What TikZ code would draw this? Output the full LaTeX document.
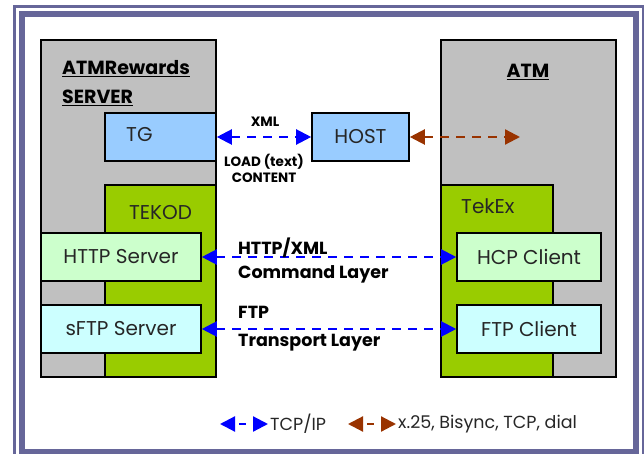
\documentclass[tikz,border=0pt]{standalone}
\usepackage{fontspec}
\setmainfont{Poppins}
\usetikzlibrary{arrows.meta}
\definecolor{frameGray}{RGB}{102,102,153}
\definecolor{boxGray}{RGB}{192,192,192}
\definecolor{boxGreen}{RGB}{153,204,0}
\definecolor{boxBlue}{RGB}{153,204,255}
\definecolor{boxMint}{RGB}{204,255,204}
\definecolor{boxCyan}{RGB}{204,255,255}
\definecolor{linkBlue}{RGB}{0,0,255}
\definecolor{linkBrown}{RGB}{153,51,0}

\begin{document}
\begin{tikzpicture}[x=1pt, y=-1pt,
    box/.style={draw=black, line width=1.6pt, inner sep=0pt,
      text=black!85, font=\fontsize{20}{24}\selectfont},
    lbl/.style={inner sep=0pt, text=black!85},
    tag/.style={inner sep=0pt, font=\bfseries\fontsize{17.5}{20}\selectfont},
    note/.style={inner sep=0pt, align=center,
      font=\bfseries\fontsize{13.5}{16}\selectfont},
    bigtip/.tip={Triangle[length=15pt, width=15pt]},
    link/.style={line width=2.2pt, dash pattern=on 9pt off 7pt, bigtip-bigtip}]
  \useasboundingbox (0,0) rectangle (644,454);
  \clip (0,0) rectangle (644,454);
  % page frame
  \draw[frameGray, line width=3pt] (14,7) rectangle (643.5,470);
  \draw[frameGray, line width=6.5pt] (22,14) rectangle (636,452);

  % server side
  \node[box, fill=boxGray, minimum width=175pt, minimum height=337pt] (srv) at (128.5,208.5) {};
  \node[box, fill=boxGreen, minimum width=111pt, minimum height=192pt] (tekod) at (160.5,281) {};
  \node[box, fill=boxBlue, minimum width=111pt, minimum height=48pt] (tg) at (160.5,137) {};
  \node[box, fill=boxMint, minimum width=160pt, minimum height=48pt] (http) at (121,257) {HTTP Server};
  \node[box, fill=boxCyan, minimum width=160pt, minimum height=48pt] (sftp) at (121,329) {sFTP Server};
  \node[lbl, anchor=west, font=\fontsize{20}{24}\selectfont] (tglbl) at (126,135) {TG};
  \node[lbl, font=\fontsize{20}{24}\selectfont] (tekodlbl) at (160.5,213) {TEKOD};
  \node[lbl, anchor=base west, align=left, text=black,
    font=\bfseries\fontsize{19}{29}\selectfont] (srvlbl) at (62,104)
    {\underline{ATMRewards}\\\underline{SERVER}};

  % host
  \node[box, fill=boxBlue, minimum width=97pt, minimum height=48pt] (host) at (360.5,137) {HOST};

  % atm side
  \node[box, fill=boxGray, minimum width=175pt, minimum height=337pt] (atm) at (528.5,208.5) {};
  \node[box, fill=boxGreen, minimum width=112pt, minimum height=192pt] (tekex) at (497,281) {};
  \node[box, fill=boxMint, minimum width=144pt, minimum height=48pt] (hcp) at (529,257) {HCP Client};
  \node[box, fill=boxCyan, minimum width=144pt, minimum height=48pt] (ftpc) at (529,329) {FTP Client};
  \node[lbl, anchor=west, font=\fontsize{20}{24}\selectfont] (tekexlbl) at (461,206.5) {TekEx};
  \node[lbl, anchor=base, text=black,
    font=\bfseries\fontsize{19}{24}\selectfont] (atmlbl) at (528,78) {\underline{ATM}};

  % links
  \coordinate (hostout) at (520,137);
  \draw[link, linkBlue] (tg.east) -- (host.west);
  \draw[link, linkBrown] (host.east) -- (hostout);
  \draw[link, linkBlue] (http.east) -- (hcp.west);
  \draw[link, linkBlue] (sftp.east) -- (ftpc.west);
  \node[note, anchor=base] (xmllbl) at (265,127) {XML};
  \node[note, anchor=base] (loadlbl) at (264,183) {LOAD (text)\\CONTENT};
  \node[tag, anchor=base west] (cmdtop) at (238,254) {HTTP/XML};
  \node[tag, anchor=base west] (cmdbot) at (238,278) {Command Layer};
  \node[tag, anchor=base west] (trntop) at (238,318) {FTP};
  \node[tag, anchor=base west] (trnbot) at (238,346) {Transport Layer};

  % legend
  \coordinate (tcpa) at (220,424);
  \coordinate (tcpb) at (268,424);
  \coordinate (x25a) at (348,424);
  \coordinate (x25b) at (396,424);
  \draw[linkBlue, line width=2.2pt, dash pattern=on 0pt off 5pt on 7pt off 6pt, bigtip-bigtip] (tcpa) -- (tcpb);
  \draw[linkBrown, line width=2.2pt, dash pattern=on 0pt off 5pt on 7pt off 6pt, bigtip-bigtip] (x25a) -- (x25b);
  \node[lbl, anchor=west, font=\fontsize{17.5}{20}\selectfont] (tcplbl) at (270,424) {TCP/IP};
  \node[lbl, anchor=west, font=\fontsize{17.5}{20}\selectfont] (x25lbl) at (398,424) {x.25, Bisync, TCP, dial};
\end{tikzpicture}
\end{document}
